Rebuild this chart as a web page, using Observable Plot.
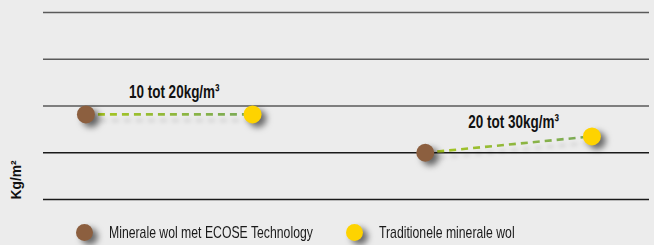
<!DOCTYPE html>
<html><head><meta charset="utf-8">
<script src="https://cdn.jsdelivr.net/npm/d3@7"></script>
<script src="https://cdn.jsdelivr.net/npm/@observablehq/plot@0.6"></script>
<style>
body{margin:0;background:#ececec;font-family:"Liberation Sans",Arial,sans-serif;}
#chart{width:654px;height:245px;position:relative;overflow:hidden;}
#chart svg{display:block;}
.legend{position:relative;height:33px;font-size:17px;color:#1a1a1a;}
.item{position:absolute;top:4px;height:33px;display:flex;align-items:center;}
.sw{width:17px;height:17px;border-radius:50%;margin-right:16px;flex:none;filter:drop-shadow(5px 4px 3px rgba(0,0,0,0.55));}
.lt{display:inline-block;white-space:nowrap;transform:scaleX(0.72);transform-origin:left center;}
</style></head><body><div id="chart"></div>
<script>
const seriesNames = ["Minerale wol met ECOSE Technology", "Traditionele minerale wol"];
const seriesColors = ["#8c5f3f", "#fed300"];
const pairLabels = ["10 tot 20kg/m³", "20 tot 30kg/m³"];
const ecoseX = [0.7, 6.3];
const ecoseY = [1.82, 1.0];
const tradX = [3.45, 9.05];
const tradY = [1.82, 1.35];
const gridValues = [0, 1, 2, 3, 4];
const yLabel = "Kg/m²";

const pairs = pairLabels.map((label, i) => ({label, ex: ecoseX[i], ey: ecoseY[i], tx: tradX[i], ty: tradY[i]}));
const ecosePts = ecoseX.map((x, i) => ({x, y: ecoseY[i]}));
const tradPts = tradX.map((x, i) => ({x, y: tradY[i]}));
const font = '"Liberation Sans",Arial,sans-serif';

const chart = Plot.plot({
  width: 654, height: 212,
  marginTop: 12, marginBottom: 13, marginLeft: 43, marginRight: 5,
  x: {domain: [0, 10], axis: null},
  y: {domain: [0, 4], axis: null},
  style: {background: "transparent", fontFamily: font, overflow: "visible"},
  marks: [
    Plot.ruleY(gridValues.filter(v => v >= 2), {stroke: "#5a5a5a", strokeWidth: 1.3}),
    Plot.ruleY(gridValues.filter(v => v < 2), {stroke: "#1a1a1a", strokeWidth: 1.3}),
    Plot.link(pairs, {x1: "ex", y1: "ey", x2: "tx", y2: "ty", stroke: "#90b83e", strokeWidth: 2.6, strokeDasharray: "7,5"}),
    Plot.dot(ecosePts, {x: "x", y: "y", r: 9, fill: seriesColors[0], stroke: "none"}),
    Plot.dot(tradPts, {x: "x", y: "y", r: 9, fill: seriesColors[1], stroke: "none"}),
    Plot.text(pairs, {x: d => (d.ex + d.tx) / 2, y: d => (d.ey + d.ty) / 2, text: "label", dy: -23, dx: 5, fontSize: 19, fontWeight: "bold", fill: "#111"}),
    Plot.text([yLabel], {frameAnchor: "bottom-left", dx: -23, dy: 0, rotate: -90, textAnchor: "start", fontSize: 15, fontWeight: "bold", fill: "#111"})
  ]
});

// gradients and shadows
const xs = chart.scale("x");
const xScale = d3.scaleLinear().domain(xs.domain).range(xs.range);
const svg = d3.select(chart);
const defs = svg.insert("defs", ":first-child");
svg.selectAll('g[aria-label="link"] path').each(function(d, i) {
  const p = pairs[i];
  const g = defs.append("linearGradient").attr("id", "lg" + i).attr("gradientUnits", "userSpaceOnUse")
    .attr("x1", xScale(p.ex)).attr("x2", xScale(p.tx)).attr("y1", 0).attr("y2", 0);
  g.append("stop").attr("offset", "0%").attr("stop-color", "#a9c81c");
  g.append("stop").attr("offset", "100%").attr("stop-color", "#78a85c");
  d3.select(this).attr("stroke", `url(#lg${i})`);
});
svg.selectAll('g[aria-label="link"]').style("filter", "drop-shadow(2px 6px 2px rgba(0,0,0,0.12))");
svg.selectAll('g[aria-label="dot"]').style("filter", "drop-shadow(5px 4px 3px rgba(0,0,0,0.55))");

const root = document.getElementById("chart");
root.appendChild(chart);

// condense text (reference uses a condensed typeface)
svg.selectAll("text").each(function() {
  const len = this.getComputedTextLength();
  const f = this.textContent === yLabel ? 0.92 : 0.71;
  if (len > 0) {
    this.setAttribute("textLength", len * f);
    this.setAttribute("lengthAdjust", "spacingAndGlyphs");
  }
});

const legend = document.createElement("div");
legend.className = "legend";
const lefts = [76, 346];
seriesNames.forEach((name, i) => {
  const it = document.createElement("div");
  it.className = "item";
  it.style.left = lefts[i] + "px";
  const sw = document.createElement("span");
  sw.className = "sw";
  sw.style.background = seriesColors[i];
  const t = document.createElement("span");
  t.className = "lt";
  t.textContent = name;
  it.appendChild(sw); it.appendChild(t);
  legend.appendChild(it);
});
root.appendChild(legend);
</script></body></html>
